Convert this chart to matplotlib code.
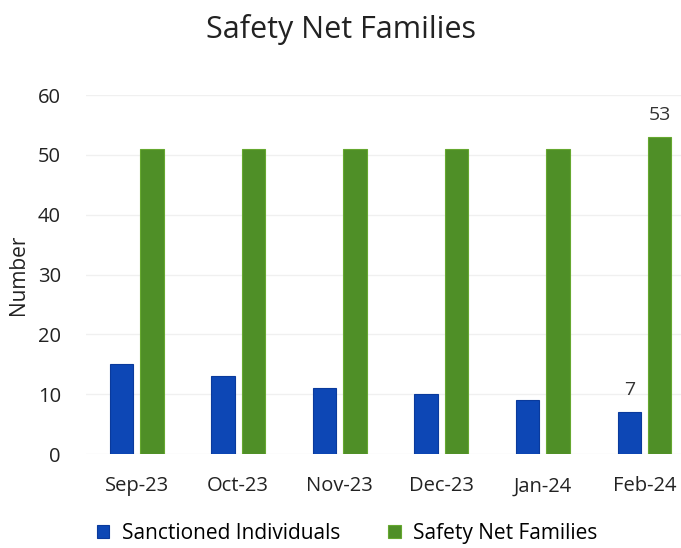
import matplotlib
matplotlib.use("Agg")
import matplotlib.pyplot as plt
import numpy as np

months = ["Sep-23", "Oct-23", "Nov-23", "Dec-23", "Jan-24", "Feb-24"]
sanctioned = [15, 13, 11, 10, 9, 7]
safety_net = [51, 51, 51, 51, 51, 53]

plt.rcParams['font.family'] = ['Open Sans', 'DejaVu Sans']

fig = plt.figure(figsize=(6.81, 5.48), dpi=100)
ax = fig.add_axes([0.126, 0.1715, 0.874, 0.6551])

x = np.arange(len(months))
w = 0.23
b1 = ax.bar(x - 0.15, sanctioned, w, color='#0d47b5', edgecolor='#0a3a9c', linewidth=0.8,
            label='Sanctioned Individuals')
b2 = ax.bar(x + 0.15, safety_net, w, color='#4f8f27', edgecolor='#66a830', linewidth=0.8,
            label='Safety Net Families')

# only the last month is labelled in the original
ax.text(x[-1] - 0.15, sanctioned[-1] + 2.2, str(sanctioned[-1]), ha='center', va='bottom',
        fontsize=14, color='#333333')
ax.text(x[-1] + 0.15, safety_net[-1] + 2.2, str(safety_net[-1]), ha='center', va='bottom',
        fontsize=14, color='#333333')

ax.set_xlim(-0.5, 5.36)
ax.set_ylim(0, 60)
ax.set_yticks(range(0, 61, 10))
ax.set_xticks(x)
ax.set_xticklabels(months)
ax.tick_params(axis='both', length=0, labelsize=14.5, colors='#222222')
ax.tick_params(axis='x', pad=16)
ax.tick_params(axis='y', pad=18)
ax.grid(axis='y', color='#f0f0f0', linewidth=1)
ax.set_axisbelow(True)
for s in ax.spines.values():
    s.set_visible(False)

ax.set_ylabel('Number', fontsize=15, color='#222222', labelpad=6)
fig.suptitle('Safety Net Families', fontsize=22, color='#222222', y=0.975)

fig.legend(handles=[b1, b2], loc='lower center', bbox_to_anchor=(0.51, -0.027), ncol=2,
           frameon=False, fontsize=15, handlelength=0.6, handleheight=0.6,
           columnspacing=2.3, handletextpad=0.6)

fig.savefig('out.png', dpi=100)
